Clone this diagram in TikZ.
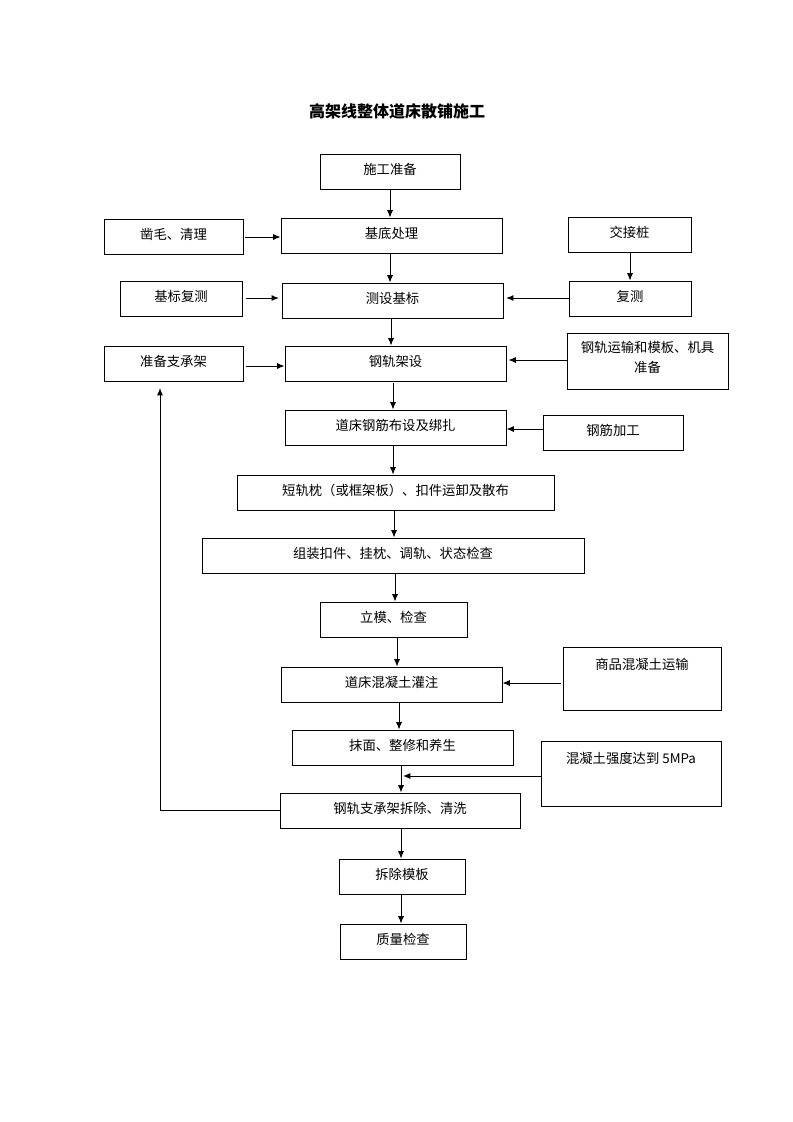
\documentclass[tikz,border=0pt]{standalone}
\usepackage{fontspec}
\newfontfamily\cjk{Noto Sans CJK SC}
\usetikzlibrary{arrows.meta}
\tikzset{
  box/.style={draw, line width=0.7pt, inner sep=0pt, align=center, text height=8pt, text depth=4pt, font=\cjk\fontsize{10}{13}\selectfont},
  arr/.style={line width=0.7pt, -{Latex[length=5.5pt,width=4.5pt]}},
  ln/.style={line width=0.7pt}
}
\newcommand{\bx}[6]{\node[box, minimum width={(#4-#2)*0.75pt}, minimum height={(#5-#3)*0.75pt}] (#1) at ({(#2+#4)/2},{(#3+#5)/2}) {#6};}
\newcommand{\tbx}[7]{\node[box, minimum width={(#4-#2)*0.75pt}, minimum height={(#5-#3)*0.75pt}, label={[font=\cjk\fontsize{10}{15}\selectfont, align=center, anchor=north, yshift=-#7pt]north:#6}] (#1) at ({(#2+#4)/2},{(#3+#5)/2}) {};}
\begin{document}
\begin{tikzpicture}[x=0.75pt,y=-0.75pt]
\useasboundingbox (0,0) rectangle (793,1122);
\node[font=\cjk\bfseries\fontsize{12}{14}\selectfont] (title) at (397,111) {高架线整体道床散铺施工};
\bx{s1}{320}{154}{460}{189}{施工准备}
\bx{b}{281}{218}{502}{253}{基底处理}
\bx{zm}{104}{219}{243}{254}{凿毛、清理}
\bx{jj}{568}{217}{691}{252}{交接桩}
\bx{jb}{120}{281}{242}{316}{基标复测}
\bx{cs}{282}{283}{503}{318}{测设基标}
\bx{fc}{569}{281}{691}{316}{复测}
\bx{zb}{104}{346}{243}{381}{准备支承架}
\bx{gj}{285}{346}{506}{381}{钢轨架设}
\tbx{gy}{567}{333}{728}{389}{钢轨运输和模板、机具\\准备}{3}
\bx{dc}{285}{410}{506}{445}{道床钢筋布设及绑扎}
\bx{jg}{543}{415}{683}{450}{钢筋加工}
\bx{dg}{237}{475}{554}{510}{短轨枕（或框架板）、扣件运卸及散布}
\bx{zz}{202}{538}{584}{573}{组装扣件、挂枕、调轨、状态检查}
\bx{lm}{320}{602}{467}{637}{立模、检查}
\bx{hn}{281}{667}{502}{702}{道床混凝土灌注}
\tbx{sp}{563}{647}{721}{710}{商品混凝土运输}{5}
\bx{mm}{292}{730}{513}{765}{抹面、整修和养生}
\tbx{qd}{541}{741}{721}{806}{混凝土强度达到 5MPa}{5}
\bx{cc}{280}{793}{520}{828}{钢轨支承架拆除、清洗}
\bx{cm}{339}{859}{465}{894}{拆除模板}
\bx{zl}{340}{924}{466}{959}{质量检查}
\coordinate (join) at (401,776);
\coordinate (fbcorner) at (160,810);
\coordinate (fbtop) at (160,388);
% vertical main flow
\draw[arr] (s1.south -| 390,0) -- (b.north -| 390,0);
\draw[arr] (b.south -| 390,0) -- (cs.north -| 390,0);
\draw[arr] (cs.south -| 391,0) -- (gj.north -| 391,0);
\draw[arr,shorten <=1.5pt] (gj.south -| 393,0) -- (dc.north -| 393,0);
\draw[arr] (dc.south -| 393,0) -- (dg.north -| 393,0);
\draw[arr] (dg.south -| 394,0) -- (zz.north -| 394,0);
\draw[arr] (zz.south -| 395,0) -- (lm.north -| 395,0);
\draw[arr] (lm.south -| 397,0) -- (hn.north -| 397,0);
\draw[arr] (hn.south -| 399,0) -- (mm.north -| 399,0);
\draw[arr] (mm.south -| 401,0) -- (cc.north -| 401,0);
\draw[arr] (cc.south -| 401,0) -- (cm.north -| 401,0);
\draw[arr] (cm.south -| 401,0) -- (zl.north -| 401,0);
\draw[arr] (jj.south -| 630,0) -- (fc.north -| 630,0);
% side inputs
\draw[arr,shorten <=1pt] (zm.east |- 0,237) -- (b.west |- 0,237);
\draw[arr,shorten <=3pt,shorten >=2pt] (jb.east |- 0,298) -- (cs.west |- 0,298);
\draw[arr,shorten >=2pt] (fc.west |- 0,298) -- (cs.east |- 0,298);
\draw[arr,shorten <=2pt] (zb.east |- 0,366) -- (gj.west |- 0,366);
\draw[arr,shorten >=1.5pt] (gy.west |- 0,360) -- (gj.east |- 0,360);
\draw[arr] (jg.west |- 0,429) -- (dc.east |- 0,429);
\draw[arr,shorten <=1.5pt] (sp.west |- 0,683) -- (hn.east |- 0,683);
\draw[arr,shorten >=1.5pt] (qd.west |- join) -- (join);
% feedback loop
\draw[arr] (cc.west |- fbcorner) -- (fbcorner) -- (fbtop);
\end{tikzpicture}
\end{document}
